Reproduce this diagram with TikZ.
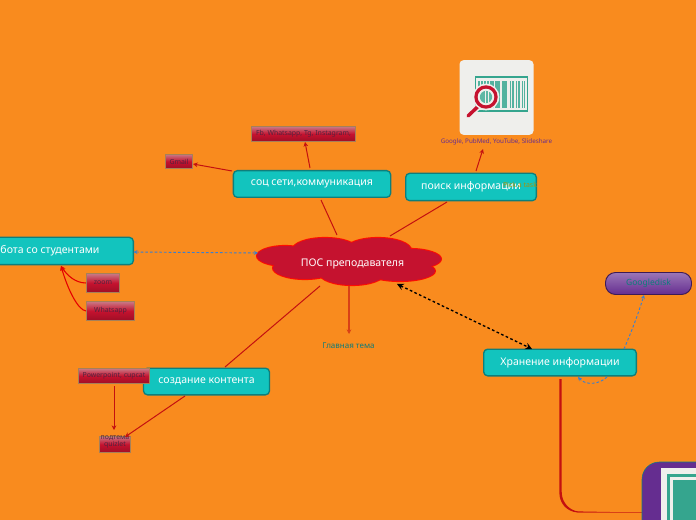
\documentclass[tikz,border=0pt]{standalone}
\usepackage{fontspec}
\setmainfont{Noto Sans}
\usetikzlibrary{arrows.meta,shapes.geometric}
\definecolor{bgor}{HTML}{F98B1E}
\definecolor{tealn}{HTML}{12C4BE}
\definecolor{tealb}{HTML}{0E7F7C}
\definecolor{crim}{HTML}{C5122F}
\definecolor{linered}{HTML}{C41010}
\definecolor{purp}{HTML}{652D90}
\definecolor{green1}{HTML}{35A58E}
\definecolor{bluel}{HTML}{3A7FD0}
\definecolor{paper}{HTML}{EFEFEC}
\definecolor{darktxt}{HTML}{50243F}
\definecolor{tealtxt}{HTML}{0E7C7A}
\tikzset{
  x=0.75pt,y=-0.75pt,
  mainbox/.style={draw=tealb,line width=1pt,fill=tealn,rounded corners=3pt,text=white,inner sep=0pt,font=\fontsize{7.9}{9}\selectfont\bfseries},
  subbox/.style={draw=gray!70!orange,line width=0.7pt,top color=#1!55!white,bottom color=#1,middle color=crim,inner sep=0pt,text=darktxt,align=center,font=\fontsize{5.2}{6}\selectfont},
  subbox/.default=crim!80!black,
  conn/.style={draw=linered,line width=0.75pt,-{Stealth[length=3.5pt,width=3.5pt]}},
  plain/.style={draw=linered,line width=0.75pt},
  bluedash/.style={draw=bluel,line width=0.7pt,dashed,dash pattern=on 2pt off 1.5pt,{Stealth[length=3pt,width=3pt]}-{Stealth[length=3pt,width=3pt]}},
  blackdash/.style={draw=black,line width=1pt,dash pattern=on 2pt off 1.8pt,{Stealth[length=5pt,width=5pt]}-{Stealth[length=5pt,width=5pt]}},
  lobe/.style={ellipse,minimum width=0pt,inner sep=0pt},
}
\begin{document}
\begin{tikzpicture}
\clip (0,0) rectangle (696,520);
\fill[bgor] (0,0) rectangle (696,520);

% cloud
\foreach \cx/\cy/\rx/\ry in {285/256/28/10,325/249/32/11,378/250/33/12,410/259/31/10,400/271/35/10,352/274/32/11,305/268/32/11}{
  \fill[red!90!orange] (\cx,\cy) ellipse [x radius=\rx*0.75pt+0.8pt,y radius=\ry*0.75pt+0.8pt];
}
\foreach \cx/\cy/\rx/\ry in {285/256/28/10,325/249/32/11,378/250/33/12,410/259/31/10,400/271/35/10,352/274/32/11,305/268/32/11,350/262/60/14}{
  \fill[crim] (\cx,\cy) ellipse [x radius=\rx*0.75pt,y radius=\ry*0.75pt];
}
\node[text=white,font=\fontsize{7.9}{9}\selectfont\bfseries,inner sep=0pt] (core) at (352.5,264) {ПОС преподавателя};

% main branches
\node[mainbox,minimum width=118pt,minimum height=20pt] (soc) at (312,184) {соц сети,коммуникация};
\node[mainbox,minimum width=98pt,minimum height=20.5pt] (poisk) at (471,187) {поиск информации};
\node[mainbox,minimum width=134pt,minimum height=20.5pt] (rabota) at (44,251) {Работа со студентами};
\node[mainbox,minimum width=94.5pt,minimum height=20pt] (sozd) at (206.5,381.5) {создание контента};
\node[mainbox,minimum width=114.5pt,minimum height=20pt] (hran) at (560,362.5) {Хранение информации};

% sub boxes
\node[subbox,minimum width=78pt,minimum height=11.5pt] (fb) at (303.5,134) {Fb, Whatsapp, Tg, Instagram,};
\node[subbox,minimum width=20pt,minimum height=11pt] (gmail) at (179,161.5) {Gmail};
\node[subbox,minimum width=25pt,minimum height=14.5pt] (zoom) at (103,283) {zoom};
\node[subbox,minimum width=36pt,minimum height=14.5pt] (whats) at (110.5,311) {Whatsapp};
\node[subbox,minimum width=53.5pt,minimum height=11.5pt] (ppt) at (114,376) {Powerpoint, cupcat};
\node[subbox,minimum width=23pt,minimum height=12.5pt] (quiz) at (115,444.5) {};
\node[text=darktxt,align=center,font=\fontsize{5.2}{5.8}\selectfont\bfseries,inner sep=0pt] (quiztxt) at (115,442) {подтема\\quizlet};

% disk
\node[draw=purp!60!black,line width=0.7pt,rounded corners=7.5pt,top color=purp!65!white,bottom color=purp,minimum width=64.5pt,minimum height=16.5pt,inner sep=0pt,text=tealtxt,font=\fontsize{6.4}{8}\selectfont\bfseries] (disk) at (648.5,283.5) {Googledisk};

% texts
\node[text=purp,inner sep=0pt,font=\fontsize{4.7}{6}\selectfont\bfseries] (google) at (496.5,141.5) {Google, PubMed, YouTube, Slideshare};
\node[text=tealtxt,inner sep=0pt,font=\fontsize{6}{7}\selectfont\bfseries] (glav) at (348.5,346) {Главная тема};
\node[text=olive!75!bgor,inner sep=0pt,font=\fontsize{5.2}{6}\selectfont] (task) at (520,185) {Pick a task};

% named connector ends
\coordinate (c1) at (337,235);\coordinate (c2) at (321,200);
\coordinate (c3) at (390,236);\coordinate (c4) at (447,202);
\coordinate (c5) at (320,286);\coordinate (c6) at (225,367);
\coordinate (s1) at (310,168);\coordinate (s2) at (305,142);
\coordinate (g1) at (232,171);\coordinate (g2) at (193,164);
\coordinate (p1) at (476,171);\coordinate (p2) at (483,149);
\coordinate (w1) at (86,283);\coordinate (w2) at (86,311);\coordinate (w3) at (61,266);
\coordinate (e1) at (114,386);\coordinate (e2) at (114,430);
\coordinate (e3) at (185,396);\coordinate (e4) at (125,437);
\coordinate (m1) at (349,286);\coordinate (m2) at (349,334);
\coordinate (b1) at (133.5,252);\coordinate (b2) at (258,253);
\coordinate (k1) at (397,284);\coordinate (k2) at (532,349);
\coordinate (d1) at (624,349);\coordinate (d2) at (644,295);
\coordinate (d3) at (607,377);\coordinate (d4) at (578,377);
\coordinate (h1) at (560,379);\coordinate (h2) at (642,512);

\draw[plain] (c1) -- (c2);
\draw[plain] (c3) -- (c4);
\draw[plain] (c5) -- (c6);
\draw[conn] (s1) -- (s2);
\draw[conn] (g1) -- (g2);
\draw[conn] (p1) -- (p2);
\draw[draw=red!90!black,line width=0.8pt,-{Stealth[length=3.5pt,width=3.5pt]}] (w1) .. controls (75,283) and (67,275) .. (w3);
\draw[draw=red!90!black,line width=0.8pt,-{Stealth[length=3.5pt,width=3.5pt]}] (w2) .. controls (78,310) and (68,290) .. (w3);
\draw[conn] (e1) -- (e2);
\draw[conn] (e3) -- (e4);
\draw[draw=linered!60!bgor,line width=1pt,-{Stealth[length=3.5pt,width=3.5pt]}] (m1) -- (m2);
\draw[bluedash] (b1) -- (b2);
\draw[blackdash] (k1) -- (k2);
\draw[bluedash,-{Stealth[length=3pt,width=3pt]},{}-{Stealth[length=3pt,width=3pt]}] (d1) .. controls (630,335) and (638,315) .. (d2);
\draw[bluedash,{}-{Stealth[length=3pt,width=3pt]}] (d3) .. controls (600,384) and (586,386) .. (d4);
\fill[linered] (559.3,379) -- (561.7,379) -- (561.7,492) .. controls (561.7,503) and (570,510.5) .. (578,511.4) -- (642,512.6) -- (578,512.6) .. controls (566,511.5) and (559.3,503) .. (559.3,492) -- cycle;
\draw[draw=linered!60!bgor,line width=0.5pt] (578,512) -- (h2);

% barcode image
\node[fill=paper,rounded corners=3pt,minimum width=55.5pt,minimum height=56pt,inner sep=0pt] (img) at (496.5,97.5) {};
\fill[green1] (474.5,76) rectangle (528,112);
\fill[paper] (476,78) rectangle (526.5,110.5);
\fill[green1!85!white] (478,80) rectangle (525,108);
\foreach \bx/\bw in {480/1,483/1,486/1,489/1,494/1,500/1.5,507/2.5,511/1,514/2,517/1,520/1.5,523/1}{
  \fill[paper] (\bx,80) rectangle (\bx+\bw,108);
}
\fill[paper] (478,80) rectangle (525,81.5);
\fill[paper] (486,78) circle [radius=0pt];
\draw[paper,line width=4.5pt,line cap=round] (469,116) -- (478,107);
\draw[crim,line width=2.6pt,line cap=round] (468,116) -- (478,106.5);
\fill[paper] (486,97) circle [radius=10pt];
\fill[crim] (486,97) circle [radius=8.8pt];
\fill[paper] (486,97) circle [radius=6.2pt];
\fill[green1!80!white] (486,97) circle [radius=4.6pt];
\fill[paper] (484.5,91) rectangle (485.2,103);
\fill[paper] (487.5,91) rectangle (488.2,103);

% bottom-right image
\fill[purp,draw=tealb,line width=0.4pt,rounded corners=13pt] (642,462) rectangle (740,560);
\fill[paper] (661,468) rectangle (740,540);
\fill[green1] (667,474) rectangle (740,540);
\fill[paper] (670,477) rectangle (740,540);
\fill[green1] (673,480) rectangle (740,540);
\end{tikzpicture}
\end{document}
